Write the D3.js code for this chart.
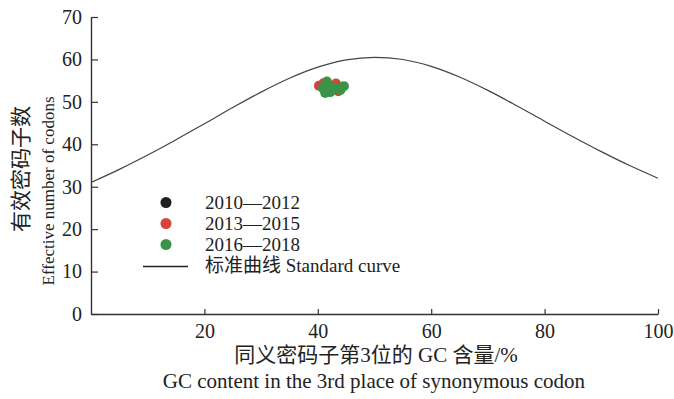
<!DOCTYPE html>
<html>
<head>
<meta charset="utf-8">
<script src="https://cdn.jsdelivr.net/npm/d3@7"></script>
<style>
  body { margin: 0; background: #fff; }
  text { font-family: "Liberation Serif", "Noto Sans CJK SC", serif; fill: #222; }
</style>
</head>
<body>
<svg id="chart" width="674" height="399"></svg>
<script>
// Expected ENC standard curve (GC3s %, ENC)
const curveGC3 = [0, 5, 10, 15, 20, 25, 30, 35, 40, 45, 50, 55, 60, 65, 70, 75, 80, 85, 90, 95, 100];
const curveENC = [31.0, 34.09, 37.47, 41.08, 44.85, 48.65, 52.30, 55.56, 58.17, 59.88, 60.5, 59.98, 58.37, 55.86, 52.70, 49.15, 45.45, 41.78, 38.27, 34.99, 32.0];

// Observed strains by period (GC3s %, ENC)
const gc3_2010 = [41.2, 41.8, 42.5, 43.0, 42.0];
const enc_2010 = [53.5, 53.0, 53.6, 53.2, 52.6];
const gc3_2013 = [40.2, 43.2, 43.6, 41.0, 42.6];
const enc_2013 = [53.8, 54.3, 52.5, 54.4, 53.5];
const gc3_2016 = [41.6, 40.9, 42.2, 43.7, 44.6, 41.3, 42.8, 44.0, 41.9];
const enc_2016 = [54.8, 53.2, 52.3, 53.1, 53.7, 52.1, 53.4, 52.8, 53.8];

const seriesNames = ["2010\u20142012", "2013\u20142015", "2016\u20142018"];
const seriesColors = ["#1f1f1f", "#d5433b", "#3a9346"];
const curveName = "标准曲线 Standard curve";

const xTicks = [20, 40, 60, 80, 100];
const yTicks = [0, 10, 20, 30, 40, 50, 60, 70];

const xTitleCN = "同义密码子第3位的 GC 含量/%";
const xTitleEN = "GC content in the 3rd place of synonymous codon";
const yTitleCN = "有效密码子数";
const yTitleEN = "Effective number of codons";

const svg = d3.select("#chart");
const m = { left: 91, right: 16, top: 17, bottom: 85 };
const W = 674, H = 399;

const x = d3.scaleLinear().domain([0, 100]).range([m.left, W - m.right]);
const y = d3.scaleLinear().domain([0, 70]).range([H - m.bottom, m.top]);

const axisColor = "#333";
const tickFont = 20;

// x axis with inward ticks
const gx = svg.append("g")
  .attr("transform", `translate(0,${y(0)})`)
  .call(d3.axisBottom(x).tickValues(xTicks).tickSizeInner(-5).tickSizeOuter(0).tickPadding(10));
gx.select(".domain").attr("stroke", axisColor).attr("stroke-width", 1.4);
gx.selectAll(".tick line").attr("stroke", axisColor).attr("stroke-width", 1.2);
gx.selectAll(".tick text").attr("font-size", tickFont).attr("font-family", "Liberation Serif").attr("fill", "#222");

// y axis with inward ticks
const gy = svg.append("g")
  .attr("transform", `translate(${x(0)},0)`)
  .call(d3.axisLeft(y).tickValues(yTicks).tickSizeInner(-7).tickSizeOuter(0).tickPadding(9));
gy.select(".domain").attr("stroke", axisColor).attr("stroke-width", 1.4);
gy.selectAll(".tick line").attr("stroke", axisColor).attr("stroke-width", 1.2);
gy.selectAll(".tick text").attr("font-size", tickFont).attr("font-family", "Liberation Serif").attr("fill", "#222");

// standard curve
const curvePts = curveGC3.map((g, i) => [g, curveENC[i]]);
svg.append("path")
  .datum(curvePts)
  .attr("fill", "none")
  .attr("stroke", "#444")
  .attr("stroke-width", 1.2)
  .attr("d", d3.line().x(d => x(d[0])).y(d => y(d[1])).curve(d3.curveMonotoneX));

// scatter points
const groups = [
  [gc3_2010, enc_2010],
  [gc3_2013, enc_2013],
  [gc3_2016, enc_2016]
];
groups.forEach(([gs, es], k) => {
  svg.append("g").selectAll("circle")
    .data(gs.map((g, i) => [g, es[i]]))
    .join("circle")
    .attr("cx", d => x(d[0]))
    .attr("cy", d => y(d[1]))
    .attr("r", 5)
    .attr("fill", seriesColors[k]);
});

// legend
const lg = svg.append("g");
const legendFont = 19;
seriesNames.forEach((name, k) => {
  const cy = 202.5 + k * 21;
  lg.append("circle").attr("cx", 166).attr("cy", cy).attr("r", 5.5).attr("fill", seriesColors[k]);
  lg.append("text").attr("x", 205).attr("y", cy + 6.5).attr("font-size", legendFont).text(name);
});
lg.append("line").attr("x1", 143).attr("x2", 188).attr("y1", 266.5).attr("y2", 266.5)
  .attr("stroke", "#222").attr("stroke-width", 1.3);
lg.append("text").attr("x", 205).attr("y", 272).attr("font-size", legendFont).text(curveName);

// axis titles
svg.append("text").attr("x", 376).attr("y", 362).attr("text-anchor", "middle")
  .attr("font-size", 21).text(xTitleCN);
svg.append("text").attr("x", 374).attr("y", 388).attr("text-anchor", "middle")
  .attr("font-size", 21).text(xTitleEN);

svg.append("text").attr("transform", "translate(28,169) rotate(-90)")
  .attr("text-anchor", "middle").attr("font-size", 21).text(yTitleCN);
svg.append("text").attr("transform", "translate(54,191) rotate(-90)")
  .attr("text-anchor", "middle").attr("font-size", 17).text(yTitleEN);
</script>
</body>
</html>
